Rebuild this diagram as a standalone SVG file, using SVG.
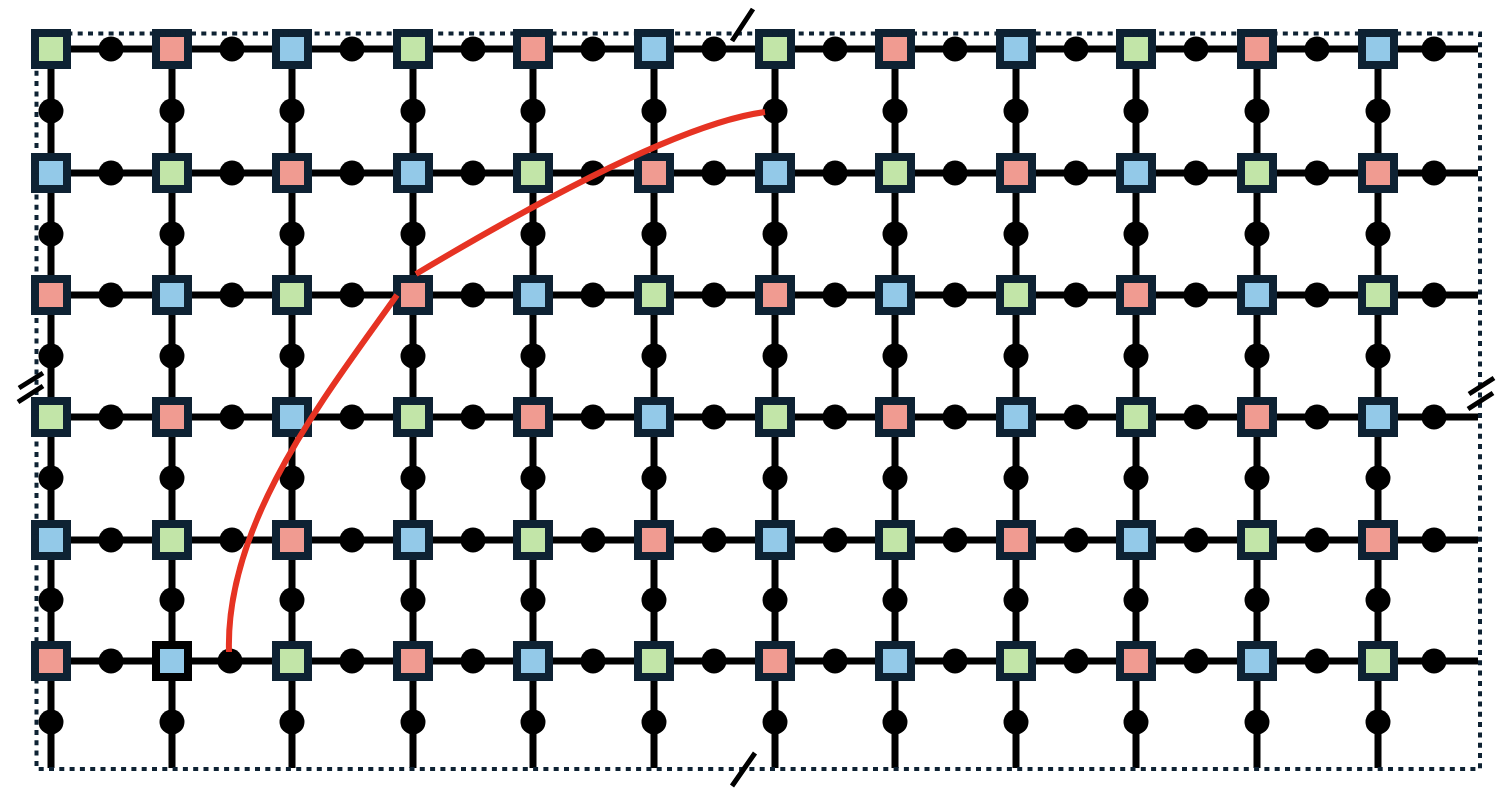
<svg xmlns="http://www.w3.org/2000/svg" width="1504" height="798" viewBox="0 0 1504 798">
<style>
.ln{stroke:#000;stroke-width:7;fill:none}
.dt circle{fill:#000}
.sq rect{stroke:#0e2233;stroke-width:8}
.G rect{fill:#c2e5a8}
.R rect{fill:#f09b91}
.B rect{fill:#93c9e8}
.brd{fill:none;stroke:#0e2233;stroke-width:4;stroke-dasharray:5 5.3}
.cut{stroke:#000;stroke-width:5;fill:none}
.path{stroke:#e63323;stroke-width:6;fill:none}
</style>
<rect width="1504" height="798" fill="#fff"/>
<g id="connectors">
<path class="ln" d="M51 49H1478M51 173H1478M51 295H1478M51 417H1478M51 540H1478M51 661H1478"/>
<path class="ln" d="M51 49V768M172 49V768M292 49V768M413 49V768M533 49V768M654 49V768M775 49V768M895 49V768M1016 49V768M1136 49V768M1257 49V768M1378 49V768"/>
</g>
<g id="bond-dots" class="dt">
<g id="h-dots">
<circle cx="111" cy="49" r="12.5"/><circle cx="232" cy="49" r="12.5"/><circle cx="352" cy="49" r="12.5"/><circle cx="473" cy="49" r="12.5"/><circle cx="593" cy="49" r="12.5"/><circle cx="714" cy="49" r="12.5"/><circle cx="835" cy="49" r="12.5"/><circle cx="955" cy="49" r="12.5"/><circle cx="1076" cy="49" r="12.5"/><circle cx="1196" cy="49" r="12.5"/><circle cx="1317" cy="49" r="12.5"/><circle cx="1434" cy="49" r="12.5"/>
<circle cx="111" cy="173" r="12.5"/><circle cx="232" cy="173" r="12.5"/><circle cx="352" cy="173" r="12.5"/><circle cx="473" cy="173" r="12.5"/><circle cx="593" cy="173" r="12.5"/><circle cx="714" cy="173" r="12.5"/><circle cx="835" cy="173" r="12.5"/><circle cx="955" cy="173" r="12.5"/><circle cx="1076" cy="173" r="12.5"/><circle cx="1196" cy="173" r="12.5"/><circle cx="1317" cy="173" r="12.5"/><circle cx="1434" cy="173" r="12.5"/>
<circle cx="111" cy="295" r="12.5"/><circle cx="232" cy="295" r="12.5"/><circle cx="352" cy="295" r="12.5"/><circle cx="473" cy="295" r="12.5"/><circle cx="593" cy="295" r="12.5"/><circle cx="714" cy="295" r="12.5"/><circle cx="835" cy="295" r="12.5"/><circle cx="955" cy="295" r="12.5"/><circle cx="1076" cy="295" r="12.5"/><circle cx="1196" cy="295" r="12.5"/><circle cx="1317" cy="295" r="12.5"/><circle cx="1434" cy="295" r="12.5"/>
<circle cx="111" cy="417" r="12.5"/><circle cx="232" cy="417" r="12.5"/><circle cx="352" cy="417" r="12.5"/><circle cx="473" cy="417" r="12.5"/><circle cx="593" cy="417" r="12.5"/><circle cx="714" cy="417" r="12.5"/><circle cx="835" cy="417" r="12.5"/><circle cx="955" cy="417" r="12.5"/><circle cx="1076" cy="417" r="12.5"/><circle cx="1196" cy="417" r="12.5"/><circle cx="1317" cy="417" r="12.5"/><circle cx="1434" cy="417" r="12.5"/>
<circle cx="111" cy="540" r="12.5"/><circle cx="232" cy="540" r="12.5"/><circle cx="352" cy="540" r="12.5"/><circle cx="473" cy="540" r="12.5"/><circle cx="593" cy="540" r="12.5"/><circle cx="714" cy="540" r="12.5"/><circle cx="835" cy="540" r="12.5"/><circle cx="955" cy="540" r="12.5"/><circle cx="1076" cy="540" r="12.5"/><circle cx="1196" cy="540" r="12.5"/><circle cx="1317" cy="540" r="12.5"/><circle cx="1434" cy="540" r="12.5"/>
<circle cx="111" cy="661" r="12.5"/><circle cx="230" cy="661" r="12.5"/><circle cx="352" cy="661" r="12.5"/><circle cx="473" cy="661" r="12.5"/><circle cx="593" cy="661" r="12.5"/><circle cx="714" cy="661" r="12.5"/><circle cx="835" cy="661" r="12.5"/><circle cx="955" cy="661" r="12.5"/><circle cx="1076" cy="661" r="12.5"/><circle cx="1196" cy="661" r="12.5"/><circle cx="1317" cy="661" r="12.5"/><circle cx="1434" cy="661" r="12.5"/>
</g>
<g id="v-dots">
<circle cx="51" cy="111" r="12.5"/><circle cx="172" cy="111" r="12.5"/><circle cx="292" cy="111" r="12.5"/><circle cx="413" cy="111" r="12.5"/><circle cx="533" cy="111" r="12.5"/><circle cx="654" cy="111" r="12.5"/><circle cx="775" cy="111" r="12.5"/><circle cx="895" cy="111" r="12.5"/><circle cx="1016" cy="111" r="12.5"/><circle cx="1136" cy="111" r="12.5"/><circle cx="1257" cy="111" r="12.5"/><circle cx="1378" cy="111" r="12.5"/>
<circle cx="51" cy="234" r="12.5"/><circle cx="172" cy="234" r="12.5"/><circle cx="292" cy="234" r="12.5"/><circle cx="413" cy="234" r="12.5"/><circle cx="533" cy="234" r="12.5"/><circle cx="654" cy="234" r="12.5"/><circle cx="775" cy="234" r="12.5"/><circle cx="895" cy="234" r="12.5"/><circle cx="1016" cy="234" r="12.5"/><circle cx="1136" cy="234" r="12.5"/><circle cx="1257" cy="234" r="12.5"/><circle cx="1378" cy="234" r="12.5"/>
<circle cx="51" cy="356" r="12.5"/><circle cx="172" cy="356" r="12.5"/><circle cx="292" cy="356" r="12.5"/><circle cx="413" cy="356" r="12.5"/><circle cx="533" cy="356" r="12.5"/><circle cx="654" cy="356" r="12.5"/><circle cx="775" cy="356" r="12.5"/><circle cx="895" cy="356" r="12.5"/><circle cx="1016" cy="356" r="12.5"/><circle cx="1136" cy="356" r="12.5"/><circle cx="1257" cy="356" r="12.5"/><circle cx="1378" cy="356" r="12.5"/>
<circle cx="51" cy="478" r="12.5"/><circle cx="172" cy="478" r="12.5"/><circle cx="292" cy="478" r="12.5"/><circle cx="413" cy="478" r="12.5"/><circle cx="533" cy="478" r="12.5"/><circle cx="654" cy="478" r="12.5"/><circle cx="775" cy="478" r="12.5"/><circle cx="895" cy="478" r="12.5"/><circle cx="1016" cy="478" r="12.5"/><circle cx="1136" cy="478" r="12.5"/><circle cx="1257" cy="478" r="12.5"/><circle cx="1378" cy="478" r="12.5"/>
<circle cx="51" cy="600" r="12.5"/><circle cx="172" cy="600" r="12.5"/><circle cx="292" cy="600" r="12.5"/><circle cx="413" cy="600" r="12.5"/><circle cx="533" cy="600" r="12.5"/><circle cx="654" cy="600" r="12.5"/><circle cx="775" cy="600" r="12.5"/><circle cx="895" cy="600" r="12.5"/><circle cx="1016" cy="600" r="12.5"/><circle cx="1136" cy="600" r="12.5"/><circle cx="1257" cy="600" r="12.5"/><circle cx="1378" cy="600" r="12.5"/>
<circle cx="51" cy="722" r="12.5"/><circle cx="172" cy="722" r="12.5"/><circle cx="292" cy="722" r="12.5"/><circle cx="413" cy="722" r="12.5"/><circle cx="533" cy="722" r="12.5"/><circle cx="654" cy="722" r="12.5"/><circle cx="775" cy="722" r="12.5"/><circle cx="895" cy="722" r="12.5"/><circle cx="1016" cy="722" r="12.5"/><circle cx="1136" cy="722" r="12.5"/><circle cx="1257" cy="722" r="12.5"/><circle cx="1378" cy="722" r="12.5"/>
</g>
</g>
<g id="tensors">
<g id="n0-0" class="sq G"><rect x="35" y="33" width="32" height="32"/></g>
<g id="n0-1" class="sq R"><rect x="156" y="33" width="32" height="32"/></g>
<g id="n0-2" class="sq B"><rect x="276" y="33" width="32" height="32"/></g>
<g id="n0-3" class="sq G"><rect x="397" y="33" width="32" height="32"/></g>
<g id="n0-4" class="sq R"><rect x="517" y="33" width="32" height="32"/></g>
<g id="n0-5" class="sq B"><rect x="638" y="33" width="32" height="32"/></g>
<g id="n0-6" class="sq G"><rect x="759" y="33" width="32" height="32"/></g>
<g id="n0-7" class="sq R"><rect x="879" y="33" width="32" height="32"/></g>
<g id="n0-8" class="sq B"><rect x="1000" y="33" width="32" height="32"/></g>
<g id="n0-9" class="sq G"><rect x="1120" y="33" width="32" height="32"/></g>
<g id="n0-10" class="sq R"><rect x="1241" y="33" width="32" height="32"/></g>
<g id="n0-11" class="sq B"><rect x="1362" y="33" width="32" height="32"/></g>
<g id="n1-0" class="sq B"><rect x="35" y="157" width="32" height="32"/></g>
<g id="n1-1" class="sq G"><rect x="156" y="157" width="32" height="32"/></g>
<g id="n1-2" class="sq R"><rect x="276" y="157" width="32" height="32"/></g>
<g id="n1-3" class="sq B"><rect x="397" y="157" width="32" height="32"/></g>
<g id="n1-4" class="sq G"><rect x="517" y="157" width="32" height="32"/></g>
<g id="n1-5" class="sq R"><rect x="638" y="157" width="32" height="32"/></g>
<g id="n1-6" class="sq B"><rect x="759" y="157" width="32" height="32"/></g>
<g id="n1-7" class="sq G"><rect x="879" y="157" width="32" height="32"/></g>
<g id="n1-8" class="sq R"><rect x="1000" y="157" width="32" height="32"/></g>
<g id="n1-9" class="sq B"><rect x="1120" y="157" width="32" height="32"/></g>
<g id="n1-10" class="sq G"><rect x="1241" y="157" width="32" height="32"/></g>
<g id="n1-11" class="sq R"><rect x="1362" y="157" width="32" height="32"/></g>
<g id="n2-0" class="sq R"><rect x="35" y="279" width="32" height="32"/></g>
<g id="n2-1" class="sq B"><rect x="156" y="279" width="32" height="32"/></g>
<g id="n2-2" class="sq G"><rect x="276" y="279" width="32" height="32"/></g>
<g id="n2-3" class="sq R"><rect x="397" y="279" width="32" height="32"/></g>
<g id="n2-4" class="sq B"><rect x="517" y="279" width="32" height="32"/></g>
<g id="n2-5" class="sq G"><rect x="638" y="279" width="32" height="32"/></g>
<g id="n2-6" class="sq R"><rect x="759" y="279" width="32" height="32"/></g>
<g id="n2-7" class="sq B"><rect x="879" y="279" width="32" height="32"/></g>
<g id="n2-8" class="sq G"><rect x="1000" y="279" width="32" height="32"/></g>
<g id="n2-9" class="sq R"><rect x="1120" y="279" width="32" height="32"/></g>
<g id="n2-10" class="sq B"><rect x="1241" y="279" width="32" height="32"/></g>
<g id="n2-11" class="sq G"><rect x="1362" y="279" width="32" height="32"/></g>
<g id="n3-0" class="sq G"><rect x="35" y="401" width="32" height="32"/></g>
<g id="n3-1" class="sq R"><rect x="156" y="401" width="32" height="32"/></g>
<g id="n3-2" class="sq B"><rect x="276" y="401" width="32" height="32"/></g>
<g id="n3-3" class="sq G"><rect x="397" y="401" width="32" height="32"/></g>
<g id="n3-4" class="sq R"><rect x="517" y="401" width="32" height="32"/></g>
<g id="n3-5" class="sq B"><rect x="638" y="401" width="32" height="32"/></g>
<g id="n3-6" class="sq G"><rect x="759" y="401" width="32" height="32"/></g>
<g id="n3-7" class="sq R"><rect x="879" y="401" width="32" height="32"/></g>
<g id="n3-8" class="sq B"><rect x="1000" y="401" width="32" height="32"/></g>
<g id="n3-9" class="sq G"><rect x="1120" y="401" width="32" height="32"/></g>
<g id="n3-10" class="sq R"><rect x="1241" y="401" width="32" height="32"/></g>
<g id="n3-11" class="sq B"><rect x="1362" y="401" width="32" height="32"/></g>
<g id="n4-0" class="sq B"><rect x="35" y="524" width="32" height="32"/></g>
<g id="n4-1" class="sq G"><rect x="156" y="524" width="32" height="32"/></g>
<g id="n4-2" class="sq R"><rect x="276" y="524" width="32" height="32"/></g>
<g id="n4-3" class="sq B"><rect x="397" y="524" width="32" height="32"/></g>
<g id="n4-4" class="sq G"><rect x="517" y="524" width="32" height="32"/></g>
<g id="n4-5" class="sq R"><rect x="638" y="524" width="32" height="32"/></g>
<g id="n4-6" class="sq B"><rect x="759" y="524" width="32" height="32"/></g>
<g id="n4-7" class="sq G"><rect x="879" y="524" width="32" height="32"/></g>
<g id="n4-8" class="sq R"><rect x="1000" y="524" width="32" height="32"/></g>
<g id="n4-9" class="sq B"><rect x="1120" y="524" width="32" height="32"/></g>
<g id="n4-10" class="sq G"><rect x="1241" y="524" width="32" height="32"/></g>
<g id="n4-11" class="sq R"><rect x="1362" y="524" width="32" height="32"/></g>
<g id="n5-0" class="sq R"><rect x="35" y="645" width="32" height="32"/></g>
<g id="n5-1" class="sq B"><rect x="156" y="645" width="32" height="32" style="stroke:#000"/></g>
<g id="n5-2" class="sq G"><rect x="276" y="645" width="32" height="32"/></g>
<g id="n5-3" class="sq R"><rect x="397" y="645" width="32" height="32"/></g>
<g id="n5-4" class="sq B"><rect x="517" y="645" width="32" height="32"/></g>
<g id="n5-5" class="sq G"><rect x="638" y="645" width="32" height="32"/></g>
<g id="n5-6" class="sq R"><rect x="759" y="645" width="32" height="32"/></g>
<g id="n5-7" class="sq B"><rect x="879" y="645" width="32" height="32"/></g>
<g id="n5-8" class="sq G"><rect x="1000" y="645" width="32" height="32"/></g>
<g id="n5-9" class="sq R"><rect x="1120" y="645" width="32" height="32"/></g>
<g id="n5-10" class="sq B"><rect x="1241" y="645" width="32" height="32"/></g>
<g id="n5-11" class="sq G"><rect x="1362" y="645" width="32" height="32"/></g>
</g>
<g id="boundary">
<rect class="brd" x="36.5" y="33.5" width="1443.5" height="735.5"/>
<path class="cut" d="M753 9L732 41M755 753L732 786M19 388L43 373M18 402L43 386M1469 394L1494 378M1468 409L1493 393"/>
</g>
<g id="red-path">
<path class="path" d="M765 112C690 122 560 188 416 274"/>
<path class="path" d="M397 295C330 390 225 520 229 652"/>
</g>
</svg>
